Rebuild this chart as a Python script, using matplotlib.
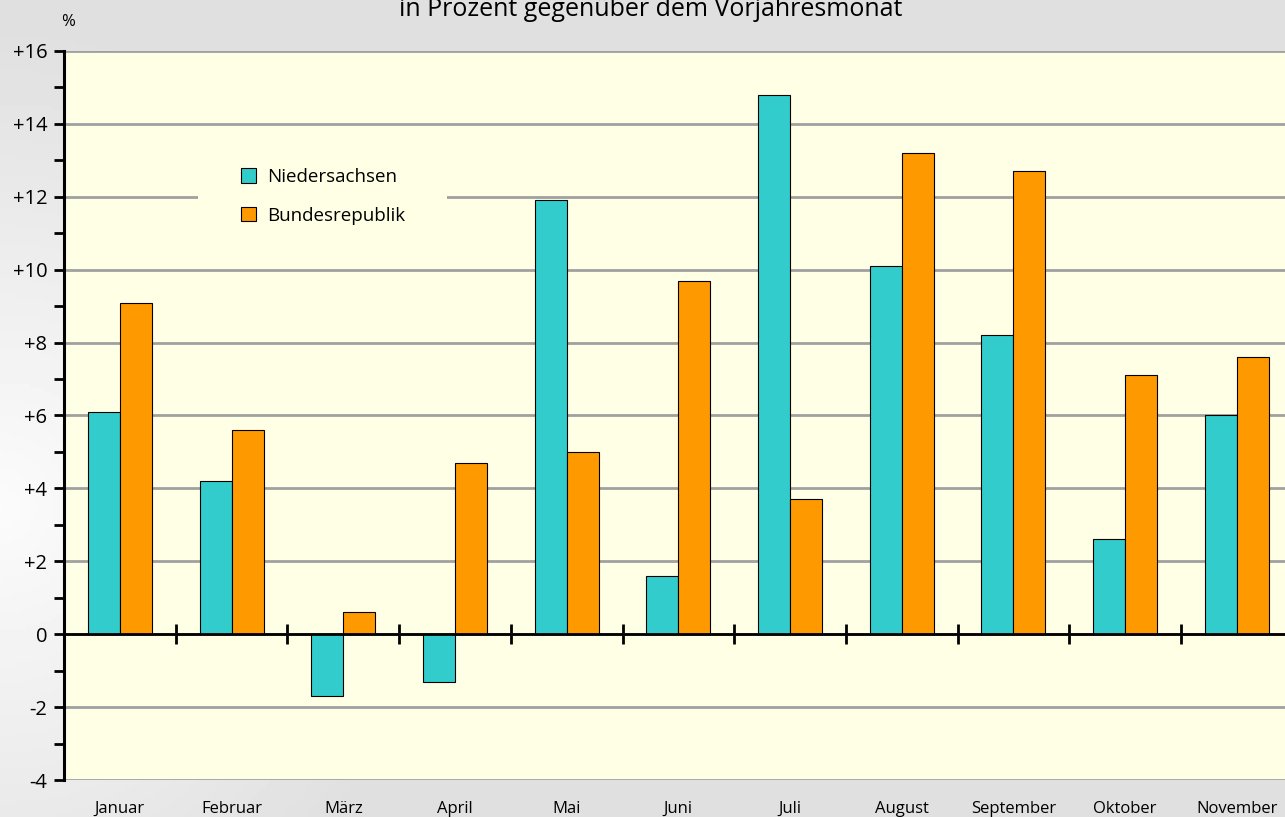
import numpy as np
import matplotlib
matplotlib.use('Agg')
import matplotlib.pyplot as plt
from matplotlib.patches import Rectangle
from matplotlib.ticker import FuncFormatter, MultipleLocator

plt.rcParams['font.family'] = ['Open Sans', 'DejaVu Sans']

# Daten: Veränderung in Prozent gegenüber dem Vorjahresmonat
monate = ['Januar', 'Februar', 'März', 'April', 'Mai', 'Juni', 'Juli',
          'August', 'September', 'Oktober', 'November']
niedersachsen = [6.1, 4.2, -1.7, -1.3, 11.9, 1.6, 14.8, 10.1, 8.2, 2.6, 6.0]
bundesrepublik = [9.1, 5.6, 0.6, 4.7, 5.0, 9.7, 3.7, 13.2, 12.7, 7.1, 7.6]
y_ticks = list(range(-4, 17, 2))

teal = '#33CCCC'
orange = '#FF9900'
gelb = '#FFFFE5'

fig = plt.figure(figsize=(12.85, 8.17), dpi=100)

# grauer Hintergrund mit Verlauf (links heller)
bg = fig.add_axes([0, 0, 1, 1], zorder=-10)
gx, gy = np.meshgrid(np.linspace(0, 1, 300), np.linspace(0, 1, 200))
d = np.sqrt((gx / 0.35) ** 2 + ((gy - 0.38) / 0.6) ** 2)
grad = 0.875 + 0.11 * np.clip(1 - d, 0, 1)
bg.imshow(grad, cmap='gray', vmin=0, vmax=1, aspect='auto', origin='lower',
          extent=[0, 1, 0, 1])
bg.axis('off')

ax = fig.add_axes([64 / 1285, 1 - 780 / 817, 1 - 64 / 1285, (780 - 51) / 817])
ax.set_facecolor(gelb)
ax.set_axisbelow(True)

x = np.arange(len(monate))
w = 0.2865
ax.bar(x - w / 2, niedersachsen, w, color=teal, edgecolor='black', linewidth=0.8,
       label='Niedersachsen', zorder=2)
ax.bar(x + w / 2, bundesrepublik, w, color=orange, edgecolor='black', linewidth=0.8,
       label='Bundesrepublik', zorder=2)

ax.set_xlim(-0.5, -0.5 + (1285 - 64) / 111.7)
ax.set_ylim(-4, 16)

# Gitterlinien
ax.yaxis.grid(True, color='#A0A0A0', linewidth=2)
ax.set_yticks(y_ticks)
ax.yaxis.set_minor_locator(MultipleLocator(1))
ax.yaxis.set_major_formatter(FuncFormatter(lambda v, p: '%+d' % v if v != 0 else '0'))
ax.tick_params(axis='y', which='both', length=7, width=2, color='black',
               labelsize=14.5, pad=5)

ax.set_xticks(x)
ax.set_xticklabels(monate)
ax.tick_params(axis='x', length=0, labelsize=12, pad=15)

for s in ['top', 'right', 'bottom']:
    ax.spines[s].set_visible(False)
ax.spines['left'].set_linewidth(2.2)

# Nulllinie mit Trennstrichen zwischen den Monaten
ax.axhline(0, color='black', linewidth=2, zorder=3)
null = ax.secondary_xaxis(0.2)
null.set_xticks(np.arange(len(monate)) + 0.5)
null.set_xticklabels([])
null.tick_params(direction='inout', length=15, width=2)
for s in null.spines.values():
    s.set_visible(False)

# Legende mit gelbem Hintergrund, der die Gitterlinie verdeckt
ax.add_patch(Rectangle(((198 - 64) / 1221, 0.74), (447 - 198) / 1221, 0.1,
                       transform=ax.transAxes, facecolor=gelb, edgecolor='none',
                       zorder=1))
ax.legend(loc='upper left', bbox_to_anchor=((241 - 64) / 1221, (780 - 168) / 729),
          frameon=False, fontsize=13.5, handlelength=0.78, handleheight=0.78,
          handletextpad=0.6, labelspacing=1.1, borderpad=0, borderaxespad=0)

fig.text(68 / 1285, 1 - 22 / 817, '%', fontsize=12, ha='center', va='center')
fig.text(651 / 1285, 1 - 16 / 817, 'in Prozent gegenüber dem Vorjahresmonat',
         fontsize=18, ha='center', va='baseline')

fig.savefig('out.png', dpi=100)
